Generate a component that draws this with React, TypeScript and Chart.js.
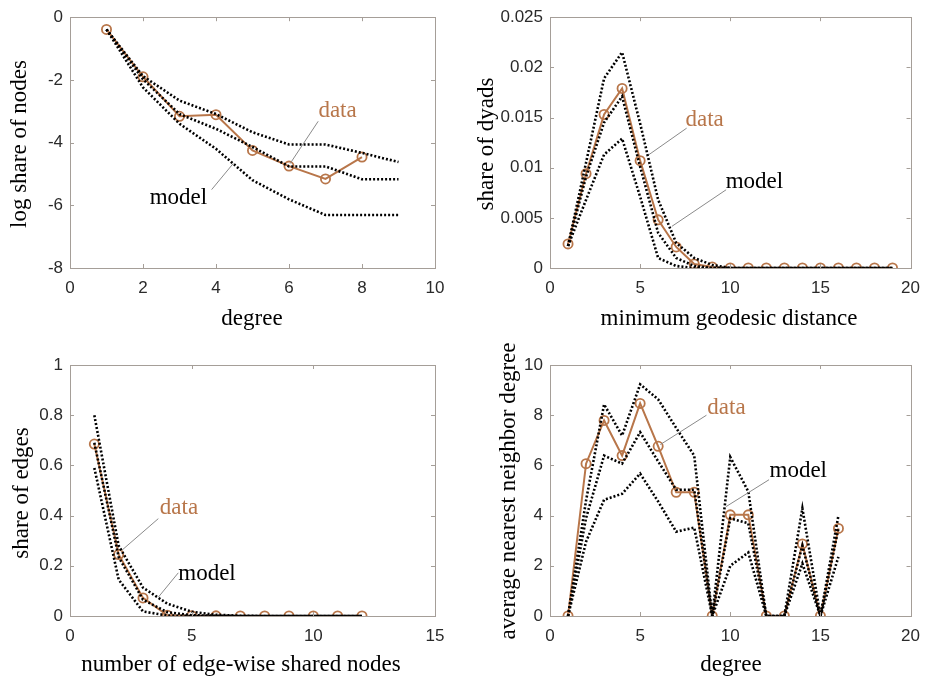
import React, { useEffect, useRef } from "react";
import { Chart, registerables } from "chart.js";
Chart.register(...registerables);

// ---------- data ----------
const degreeTL = [1, 2, 3, 4, 5, 6, 7, 8, 9];
const dataTL = [-0.39, -1.9, -3.16, -3.11, -4.25, -4.75, -5.16, -4.46];
const modelHiTL = [-0.39, -1.88, -2.66, -3.09, -3.67, -4.06, -4.06, -4.33, -4.62];
const modelMidTL = [-0.39, -1.98, -3.09, -3.56, -4.14, -4.76, -4.76, -5.17, -5.17];
const modelLoTL = [-0.39, -2.24, -3.4, -4.2, -5.2, -5.81, -6.31, -6.31, -6.31];

const distTR = [1, 2, 3, 4, 5, 6, 7, 8, 9, 10, 11, 12, 13, 14, 15, 16, 17, 18, 19];
const dataTR = [0.0024, 0.0094, 0.0153, 0.0179, 0.0107, 0.0048, 0.0021, 0.0004, 0.0001, 0, 0, 0, 0, 0, 0, 0, 0, 0, 0];
const modelHiTR = [0.0022, 0.0105, 0.0189, 0.0215, 0.0144, 0.0068, 0.0025, 0.001, 0.0003, 0, 0, 0, 0, 0, 0, 0, 0, 0, 0];
const modelMidTR = [0.0022, 0.0091, 0.0145, 0.0171, 0.0101, 0.0035, 0.001, 0.0002, 0, 0, 0, 0, 0, 0, 0, 0, 0, 0, 0];
const modelLoTR = [0.0022, 0.0068, 0.0113, 0.0129, 0.0071, 0.001, 0.0002, 0, 0, 0, 0, 0, 0, 0, 0, 0, 0, 0, 0];

const sharedBL = [1, 2, 3, 4, 5, 6, 7, 8, 9, 10, 11, 12];
const dataBL = [0.685, 0.245, 0.072, 0.003, 0.001, 0.0005, 0, 0, 0, 0, 0, 0];
const modelHiBL = [0.8, 0.28, 0.113, 0.049, 0.017, 0.005, 0.001, 0, 0, 0, 0, 0];
const modelMidBL = [0.69, 0.235, 0.065, 0.015, 0.003, 0.001, 0, 0, 0, 0, 0, 0];
const modelLoBL = [0.59, 0.145, 0.018, 0.002, 0, 0, 0, 0, 0, 0, 0, 0];

const degreeBR = [1, 2, 3, 4, 5, 6, 7, 8, 9, 10, 11, 12, 13, 14, 15, 16];
const dataBR = [0, 6.07, 7.79, 6.39, 8.47, 6.76, 4.93, 4.93, 0, 4.03, 4.03, 0, 0, 2.87, 0, 3.49];
const modelHiBR = [0, 4.6, 8.43, 7.19, 9.23, 8.63, 7.49, 6.39, 0, 6.33, 4.96, 0, 0, 4.29, 0, 4.0];
const modelMidBR = [0, 3.9, 6.39, 6.07, 7.32, 6.16, 5.03, 5.03, 0, 3.89, 3.69, 0, 0, 2.8, 0, 3.49];
const modelLoBR = [0, 2.96, 4.63, 4.87, 5.67, 4.56, 3.36, 3.52, 0, 2.0, 2.53, 0, 0, 2.09, 0, 2.36];

// ---------- styles ----------
const BROWN = "#b8764a";
const AXIS = "#a59e98";
const TICK_COLOR = "#2a2a2a";
const TICK_FONT = { family: "'Liberation Sans', Arial, sans-serif", size: 17 };
const SERIF = "'Liberation Serif', 'Times New Roman', serif";
const TITLE_SIZE = 23;
const ANN_SIZE = 23;
const W = 465;
const H = 342;

type Ann = {
  dataLabel: number[];
  dataLeader: number[];
  modelLabel: number[];
  modelLeader: number[];
};

type PanelCfg = {
  left: number;
  top: number;
  area: { l: number; t: number; r: number; b: number };
  xs: number[];
  data: number[];
  models: number[][];
  xRange: number[];
  yRange: number[];
  xTitle: string;
  yTitle: string;
  xTitlePos: number[]; // pixel centre within panel
  yTitlePos: number[];
  ann: Ann;
};

const panels: PanelCfg[] = [
  {
    left: 0, top: 0, area: { l: 70, t: 16, r: 435, b: 268 },
    xs: degreeTL, data: dataTL, models: [modelHiTL, modelMidTL, modelLoTL],
    xRange: [0, 10, 2], yRange: [-8, 0, 2],
    xTitle: "degree", yTitle: "log share of nodes",
    xTitlePos: [252, 319], yTitlePos: [19.5, 144],
    ann: { dataLabel: [7.33, -2.98], dataLeader: [6.8, -3.32, 6.03, -4.67], modelLabel: [2.97, -5.78], modelLeader: [3.88, -5.5, 4.47, -4.67] },
  },
  {
    left: 465, top: 0, area: { l: 85, t: 16, r: 450, b: 268 },
    xs: distTR, data: dataTR, models: [modelHiTR, modelMidTR, modelLoTR],
    xRange: [0, 20, 5], yRange: [0, 0.025, 0.005],
    xTitle: "minimum geodesic distance", yTitle: "share of dyads",
    xTitlePos: [264, 319], yTitlePos: [22, 144],
    ann: { dataLabel: [8.58, 0.01477], dataLeader: [7.58, 0.01394, 5.48, 0.01129], modelLabel: [11.34, 0.00853], modelLeader: [9.77, 0.0078, 6.76, 0.00415] },
  },
  {
    left: 0, top: 342, area: { l: 70, t: 23, r: 435, b: 274 },
    xs: sharedBL, data: dataBL, models: [modelHiBL, modelMidBL, modelLoBL],
    xRange: [0, 15, 5], yRange: [0, 1, 0.2],
    xTitle: "number of edge-wise shared nodes", yTitle: "share of edges",
    xTitlePos: [241, 323], yTitlePos: [21.5, 151],
    ann: { dataLabel: [4.48, 0.431], dataLeader: [3.63, 0.388, 2.12, 0.261], modelLabel: [5.63, 0.168], modelLeader: [4.45, 0.172, 3.63, 0.075] },
  },
  {
    left: 465, top: 342, area: { l: 85, t: 23, r: 450, b: 274 },
    xs: degreeBR, data: dataBR, models: [modelHiBR, modelMidBR, modelLoBR],
    xRange: [0, 20, 5], yRange: [0, 10, 2],
    xTitle: "degree", yTitle: "average nearest neighbor degree",
    xTitlePos: [266, 323], yTitlePos: [43.5, 149],
    ann: { dataLabel: [9.79, 8.29], dataLeader: [8.68, 8.0, 6.12, 6.83], modelLabel: [13.77, 5.76], modelLeader: [12.15, 5.43, 9.77, 4.36] },
  },
];

const fmt = (v: number) => String(Math.round(v * 1000) / 1000);

const boxPlugin = {
  id: "boxTicks",
  afterDatasetsDraw(chart: any) {
    const { ctx, chartArea: a, scales } = chart;
    const xs = scales.x;
    const ys = scales.y;
    ctx.save();
    ctx.strokeStyle = AXIS;
    ctx.lineWidth = 1;
    ctx.strokeRect(Math.round(a.left) + 0.5, Math.round(a.top) + 0.5, Math.round(a.right - a.left), Math.round(a.bottom - a.top));
    const tl = 4;
    ctx.beginPath();
    xs.ticks.forEach((t: any) => {
      const px = Math.round(xs.getPixelForValue(t.value)) + 0.5;
      ctx.moveTo(px, a.bottom);
      ctx.lineTo(px, a.bottom - tl);
      ctx.moveTo(px, a.top);
      ctx.lineTo(px, a.top + tl);
    });
    ys.ticks.forEach((t: any) => {
      const py = Math.round(ys.getPixelForValue(t.value)) + 0.5;
      ctx.moveTo(a.left, py);
      ctx.lineTo(a.left + tl, py);
      ctx.moveTo(a.right, py);
      ctx.lineTo(a.right - tl, py);
    });
    ctx.stroke();
    ctx.restore();
  },
};

function makeTextPlugin(cfg: PanelCfg) {
  const ann = cfg.ann;
  return {
    id: "annot",
    afterDatasetsDraw(chart: any) {
      const { ctx, scales } = chart;
      const X = (v: number) => scales.x.getPixelForValue(v);
      const Y = (v: number) => scales.y.getPixelForValue(v);
      ctx.save();
      ctx.strokeStyle = "#8a8a8a";
      ctx.lineWidth = 1;
      [ann.dataLeader, ann.modelLeader].forEach((l) => {
        ctx.beginPath();
        ctx.moveTo(X(l[0]), Y(l[1]));
        ctx.lineTo(X(l[2]), Y(l[3]));
        ctx.stroke();
      });
      ctx.font = `${ANN_SIZE}px ${SERIF}`;
      ctx.textAlign = "center";
      ctx.textBaseline = "middle";
      ctx.fillStyle = BROWN;
      ctx.fillText("data", X(ann.dataLabel[0]), Y(ann.dataLabel[1]));
      ctx.fillStyle = "#000";
      ctx.fillText("model", X(ann.modelLabel[0]), Y(ann.modelLabel[1]));
      // axis titles
      ctx.font = `${TITLE_SIZE}px ${SERIF}`;
      ctx.fillStyle = "#000";
      ctx.fillText(cfg.xTitle, cfg.xTitlePos[0], cfg.xTitlePos[1]);
      ctx.translate(cfg.yTitlePos[0], cfg.yTitlePos[1]);
      ctx.rotate(-Math.PI / 2);
      ctx.fillText(cfg.yTitle, 0, 0);
      ctx.restore();
    },
  };
}

function Panel({ cfg }: { cfg: PanelCfg }) {
  const ref = useRef<HTMLCanvasElement>(null);
  useEffect(() => {
    if (!ref.current) return;
    const pts = (ys: number[]) => ys.map((y, i) => ({ x: cfg.xs[i], y }));
    const modelSets = cfg.models.map((m) => ({
      data: pts(m),
      borderColor: "#000",
      borderWidth: 2.6,
      borderDash: [2, 2],
      pointRadius: 0,
      fill: false,
      tension: 0,
    }));
    const dataSet = {
      data: pts(cfg.data),
      borderColor: BROWN,
      borderWidth: 2,
      pointRadius: 4.6,
      pointBorderWidth: 1.8,
      pointBorderColor: BROWN,
      pointBackgroundColor: "rgba(0,0,0,0)",
      fill: false,
      tension: 0,
    };
    const a = cfg.area;
    const chart = new Chart(ref.current, {
      type: "line",
      data: { datasets: [...modelSets, dataSet] as any },
      options: {
        responsive: false,
        animation: false,
        devicePixelRatio: 1,
        layout: { padding: { left: 0, top: a.t, right: W - a.r, bottom: 0 } },
        plugins: { legend: { display: false }, tooltip: { enabled: false } },
        scales: {
          x: {
            type: "linear",
            min: cfg.xRange[0],
            max: cfg.xRange[1],
            ticks: { stepSize: cfg.xRange[2], padding: 10, font: TICK_FONT, color: TICK_COLOR, maxRotation: 0, autoSkip: false, callback: (v: any) => fmt(Number(v)) },
            grid: { display: false, drawTicks: false },
            border: { display: false },
            title: { display: false },
            afterFit: (s: any) => { s.height = H - a.b; },
          },
          y: {
            type: "linear",
            min: cfg.yRange[0],
            max: cfg.yRange[1],
            ticks: { stepSize: cfg.yRange[2], padding: 7, font: TICK_FONT, color: TICK_COLOR, autoSkip: false, callback: (v: any) => fmt(Number(v)) },
            grid: { display: false, drawTicks: false },
            border: { display: false },
            title: { display: false },
            afterFit: (s: any) => { s.width = a.l; },
          },
        },
      } as any,
      plugins: [boxPlugin, makeTextPlugin(cfg)],
    });
    return () => chart.destroy();
  }, [cfg]);
  return (
    <div style={{ position: "absolute", left: cfg.left, top: cfg.top, width: W, height: H }}>
      <canvas ref={ref} width={W} height={H} style={{ display: "block", width: W, height: H }} />
    </div>
  );
}

export default function App() {
  return (
    <div style={{ position: "absolute", left: 0, top: 0, width: 930, height: 684, background: "#fff" }}>
      {panels.map((p, i) => (
        <Panel key={i} cfg={p} />
      ))}
    </div>
  );
}
